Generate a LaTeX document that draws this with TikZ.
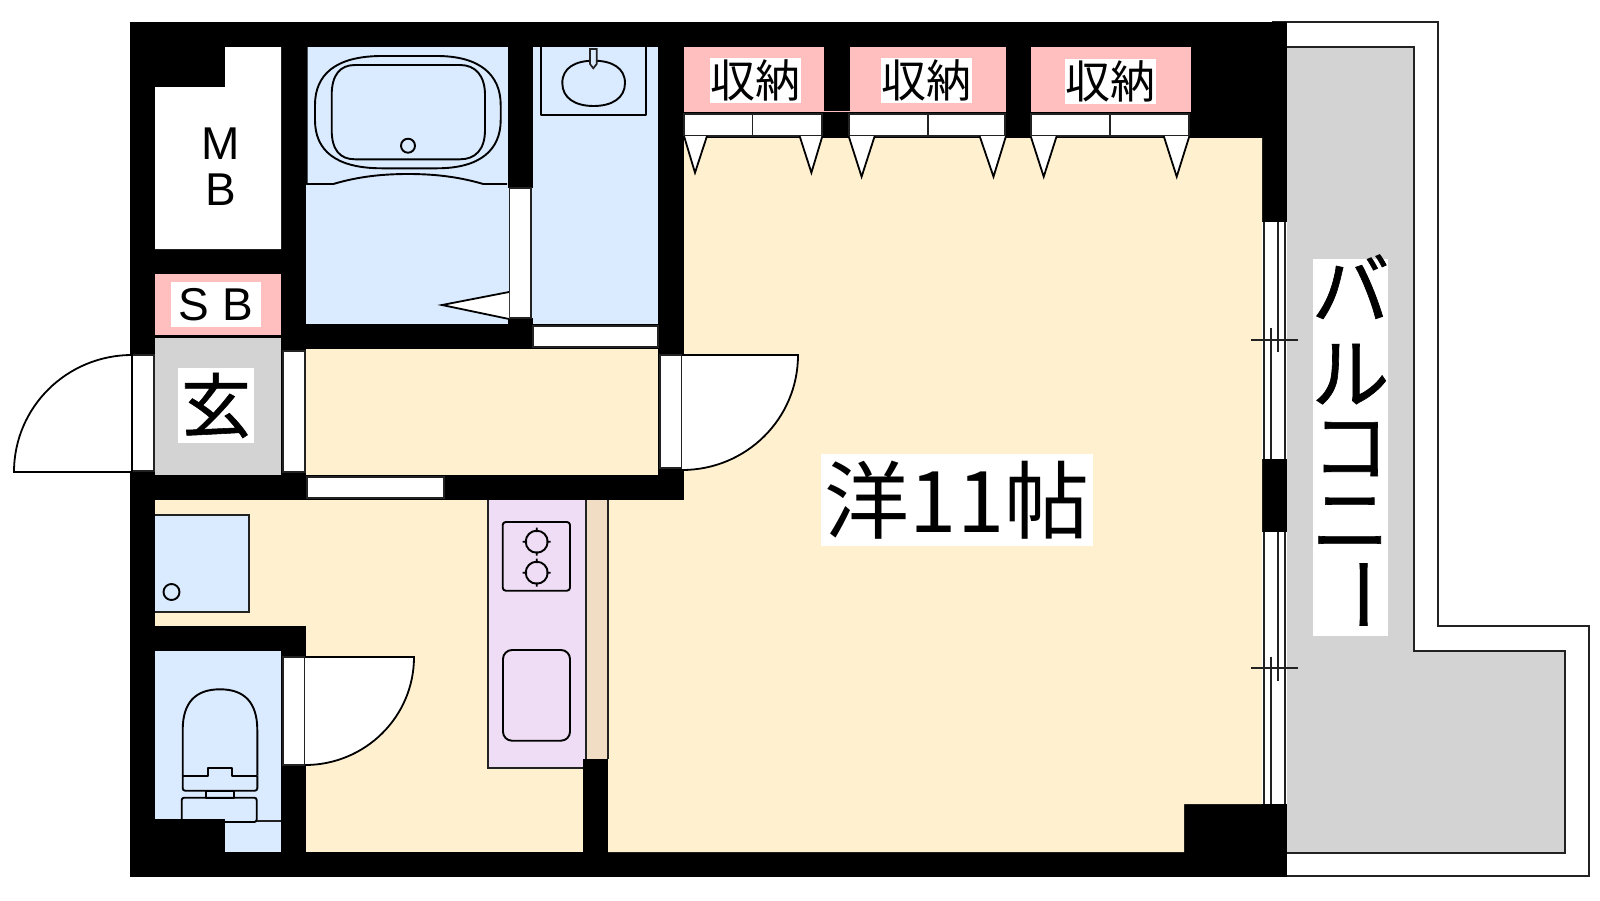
\documentclass[tikz,border=0pt]{standalone}
\usepackage{fontspec}
\setmainfont{Liberation Sans}
\newfontfamily\cjk{Noto Sans CJK JP}
\newfontfamily\cjkheavy[FakeBold=0.8]{Noto Sans CJK JP}
\definecolor{bluefloor}{HTML}{DBEBFF}
\definecolor{beigefloor}{HTML}{FFF0D0}
\definecolor{pinkfloor}{HTML}{FFBFBF}
\definecolor{grayfloor}{HTML}{D3D3D3}
\definecolor{purplefloor}{HTML}{EEDDF5}
\definecolor{stripfloor}{HTML}{F0DDC3}
\definecolor{thinline}{HTML}{222222}
\tikzset{
wall/.style={fill=black},
floor/.style={fill=#1},
thin part/.style={draw=thinline,line width=0.85pt},
window box/.style={thin part,fill=white},
leaf/.style={draw=black,fill=white,line width=0.9pt,line join=miter},
fixture/.style={draw=black,line width=0.95pt,line join=round},
tag/.style={fill=white,inner sep=0pt,text=black,align=center},
latin tag/.style={tag,font=\fontsize{23}{23}\selectfont},
store tag/.style={tag,font=\cjk\fontsize{22.5}{25}\selectfont,minimum width=45.5pt,minimum height=22.5pt},
}
\begin{document}
\begin{tikzpicture}[x=0.5pt,y=-0.5pt]
\useasboundingbox[fill=white] (0,0) rectangle (1600,900);
% balcony
\draw[thin part,fill=white] (1273,22) -- (1437.7,22) -- (1437.7,626) -- (1589,626) -- (1589,876) -- (1273,876) -- cycle;
\draw[thin part,fill=grayfloor] (1280,46.7) -- (1413.7,46.7) -- (1413.7,650.7) -- (1565,650.7) -- (1565,852.7) -- (1280,852.7) -- cycle;
% building block
\fill[wall] (130,22) rectangle (1287,877);
% rooms
\fill[floor=white] (225,47) -- (281,47) -- (281,249) -- (155,249) -- (155,87) -- (225,87) -- cycle;
\fill[floor=pinkfloor] (155,274) rectangle (281,335);
\fill[floor=grayfloor] (155,337.5) rectangle (281,475);
\fill[floor=bluefloor] (306,47) rectangle (510,324);
\fill[floor=bluefloor] (531,47) rectangle (658,324);
\fill[wall] (508,47) rectangle (533,188);
\fill[wall] (508,318) rectangle (533,349);
\fill[floor=beigefloor] (306,349) rectangle (658,475);
\fill[floor=beigefloor] (155,500) rectangle (583,852);
\fill[floor=beigefloor] (684,138) -- (1262,138) -- (1262,804) -- (1184,804) -- (1184,852) -- (608,852) -- (608,500) -- (684,500) -- cycle;
\fill[wall] (155,626) rectangle (306,657);
\fill[wall] (281,626) rectangle (306,852);
\fill[floor=bluefloor] (155,651) rectangle (281,852);
% closets
\fill[floor=pinkfloor] (684,47) rectangle (824,112);
\fill[floor=pinkfloor] (850,47) rectangle (1006,112);
\fill[floor=pinkfloor] (1031,47) rectangle (1191,112);
\draw[pinkfloor,line width=0.5pt] (824,111.5) -- (850,111.5);
\draw[window box] (684,114) rectangle (822,136) (752.6,114) -- (752.6,136);
\draw[window box] (849,114) rectangle (1005,136) (928,114) -- (928,136);
\draw[window box] (1031,114) rectangle (1189,136) (1110,114) -- (1110,136);
\draw[leaf] (684,136) -- (695,172.7) -- (707,136);
\draw[leaf] (799.6,136) -- (811.4,172.7) -- (822.4,136);
\draw[leaf] (848.6,136) -- (861.6,176.7) -- (874.7,136);
\draw[leaf] (979.6,136) -- (993.5,176.7) -- (1006,136);
\draw[leaf] (1030.6,136) -- (1043.7,176.7) -- (1056.7,136);
\draw[leaf] (1163.7,136) -- (1176.7,176.7) -- (1189.4,136);
% doors and windows
\draw[window box] (132,355) rectangle (154,471);
\draw[leaf] (132,355) .. controls (67,355) and (14,407) .. (14,472) -- (132,472) -- cycle;
\draw[window box] (283,351) rectangle (305,472);
\draw[window box] (509.5,188) rectangle (531,318);
\draw[leaf] (509,292) -- (442,305) -- (509,319);
\draw[window box] (533,326) rectangle (658,347);
\draw[window box] (660,355) rectangle (682,468);
\draw[leaf] (682,355) -- (798,355) .. controls (798,419) and (746,470) .. (682,470);
\draw[window box] (307,477) rectangle (444,498);
\draw[window box] (283,657) rectangle (305,765);
\draw[leaf] (305,657) -- (414,657) .. controls (414,717) and (365,765) .. (305,765);
% balcony windows
\fill[white] (1262,222) rectangle (1287,459);
\fill[white] (1262,532) rectangle (1287,804);
\draw[thin part] (1263.7,222) -- (1263.7,459) (1285,222) -- (1285,459);
\draw[thin part] (1278,222) -- (1278,352) (1271.3,328) -- (1271.3,459) (1251,340.3) -- (1297.7,340.3);
\draw[thin part] (1263.7,532) -- (1263.7,804) (1285,532) -- (1285,804);
\draw[thin part] (1278,532) -- (1278,680.7) (1271.3,656.7) -- (1271.3,804) (1251,668.3) -- (1297.7,668.3);
% bath
\draw[fixture] (306.7,47) -- (306.7,184) -- (333.3,184) .. controls (360,176) and (385,174) .. (408,174) .. controls (431,174) and (456,176) .. (483.3,184) -- (507,184);
\draw[fixture] (382,56) -- (437,56) .. controls (480,56) and (500.7,75) .. (500.7,105) -- (500.7,120) .. controls (500.7,150) and (480,168.3) .. (437,168.3) -- (382,168.3) .. controls (335,168.3) and (315,150) .. (315,120) -- (315,105) .. controls (315,75) and (335,56) .. (382,56) -- cycle;
\draw[fixture] (355,65) -- (460,65) .. controls (475,65) and (485,75) .. (485,95) -- (485,130) .. controls (485,150) and (475,159.3) .. (460,159.3) -- (355,159.3) .. controls (340,159.3) and (331.7,150) .. (331.7,130) -- (331.7,95) .. controls (331.7,75) and (340,65) .. (355,65) -- cycle;
\draw[fixture] (408,145.7) circle [radius=7];
% wash basin
\draw[fixture] (541,47) -- (541,115) -- (646,115) -- (646,47);
\draw[fixture] (593.7,60.7) .. controls (612,60.7) and (625,68) .. (625,83) .. controls (625,98) and (612,106) .. (593.7,106) .. controls (575,106) and (562.3,98) .. (562.3,83) .. controls (562.3,68) and (575,60.7) .. (593.7,60.7) -- cycle;
\draw[thin part,fill=bluefloor] (590,49) -- (596.7,49) -- (596.7,64) -- (593.3,68.3) -- (590,64) -- cycle;
% washing machine pan
\draw[thin part,fill=bluefloor] (155,515) -- (249,515) -- (249,612) -- (155,612);
\draw[fixture] (171.5,592) circle [radius=8];
% toilet
\draw[fixture] (182.7,775.7) -- (182.7,730) .. controls (182.7,702) and (196,689.3) .. (220,689.3) .. controls (244,689.3) and (257.3,702) .. (257.3,730) -- (257.3,775.7);
\draw[fixture] (181.7,775.7) -- (208.3,775.7) -- (208.3,768) -- (231.7,768) -- (231.7,775.7) -- (256.7,775.7);
\draw[fixture,rounded corners=1.2pt] (182.7,775.7) -- (182.7,790.7) -- (257.3,790.7) -- (257.3,775.7);
\draw[fixture] (206,790.7) rectangle (234,797.7);
\draw[fixture,rounded corners=1.2pt] (181.7,822) -- (181.7,797.7) -- (256.7,797.7) -- (256.7,822) -- cycle;
\draw[thin part] (256.7,821) -- (281,821);
\fill[wall] (155,819) rectangle (225,852);
% kitchen
\fill[floor=stripfloor] (585,500) rectangle (607.7,759);
\draw[thin part] (607.7,500) -- (607.7,759);
\draw[thin part,fill=purplefloor] (488,500) -- (488,767.7) -- (585.7,767.7) -- (585.7,500);
\draw[fixture,rounded corners=1.5pt] (502.7,522) rectangle (570,590.7);
\draw[fixture] (536.7,541.7) circle [radius=11] (522.7,541.7) -- (527,541.7) (546.4,541.7) -- (550.7,541.7) (536.7,527.7) -- (536.7,532) (536.7,551.4) -- (536.7,555.7);
\draw[fixture] (536.7,572.7) circle [radius=11] (522.7,572.7) -- (527,572.7) (546.4,572.7) -- (550.7,572.7) (536.7,558.7) -- (536.7,563) (536.7,582.4) -- (536.7,586.7);
\draw[fixture,rounded corners=4.5pt] (503,650) rectangle (570,740.7);
\fill[wall] (583,759) rectangle (608,852);
% labels
\node[latin tag,fill=none] (mblabel) at (221,167) {M\\B};
\node[latin tag,minimum width=45pt,minimum height=22.5pt] (sblabel) at (216,304.5) {\raisebox{-1pt}{S B}};
\node[tag,font=\cjkheavy\fontsize{35}{40}\selectfont,minimum width=38pt,minimum height=37.5pt] (entrylabel) at (216,405.5) {玄};
\node[store tag] (store1) at (755,80.5) {収納};
\node[store tag] (store2) at (926,80.5) {収納};
\node[store tag] (store3) at (1110.5,81.5) {収納};
\node[tag,font=\cjk\fontsize{42.5}{48}\selectfont,minimum width=136pt,minimum height=46pt] (roomlabel) at (957,500) {洋11帖};
\fill[white] (1313,258.7) rectangle (1388,635.7);
\node[tag,fill=none,font=\cjkheavy\fontsize{39}{38}\selectfont] (balconylabel) at (1350.5,444) {バ\\[4pt]ル\\[-1.5pt]コ\\[-1.5pt]ニ\\[-6.5pt]\rotatebox[origin=c]{-90}{ー}};
\end{tikzpicture}
\end{document}
